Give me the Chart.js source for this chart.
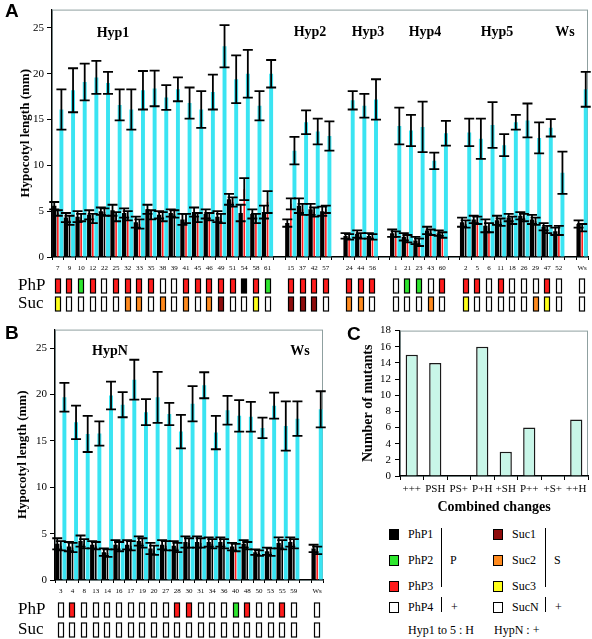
<!DOCTYPE html>
<html lang="en">
<head>
<meta charset="UTF-8">
<title>Hypocotyl length of Hyp mutants</title>
<script src="https://cdn.jsdelivr.net/npm/chart.js"></script>
<style>
  body { margin: 0; background: #fff; width: 592px; height: 639px; position: relative; overflow: hidden;
         font-family: "Liberation Serif", "Times New Roman", serif; color: #000; }
  canvas { position: absolute; }
  .t { position: absolute; white-space: nowrap; line-height: 1; }
  .letter { font-family: "Liberation Sans", Arial, sans-serif; font-weight: bold; font-size: 19px; }
  .sq { position: absolute; width: 10px; height: 11px; box-sizing: border-box; border: 1px solid #000; }
  .vl { position: absolute; width: 0; border-left: 1.5px solid #000; }
</style>
</head>
<body>
<canvas id="chartA" width="592" height="315" style="left:0;top:0"></canvas>
<canvas id="chartB" width="330" height="319" style="left:0;top:320px"></canvas>
<canvas id="chartC" width="262" height="200" style="left:330px;top:320px"></canvas>
<div class="t letter" style="left:5px;top:1px">A</div>
<div class="t letter" style="left:5px;top:323px">B</div>
<div class="t letter" style="left:347px;top:324px">C</div>
<div id="legend"></div>

<script>
  // ---- panel A: Hyp1..Hyp5 mutants and Ws ('' = gap between groups)
  const labelsA = ['7','9','10','12','22','25','32','33','35','38','39','41','45','46','49','51','54','58','61','',
                   '15','37','42','57','',
                   '24','44','56','',
                   '1','21','23','43','60','',
                   '2','5','6','11','18','26','29','47','52','',
                   'Ws'];
  const darkA = [5.6,4.3,4.4,4.6,5.0,5.1,4.8,3.8,5.2,4.6,4.8,4.1,4.9,4.7,4.4,6.3,4.8,4.7,4.9,null,
                 3.7,5.6,5.2,5.0,null,
                 2.3,2.5,2.3,null,
                 2.6,2.2,1.8,2.9,2.6,null,
                 3.8,4.1,3.4,4.0,4.3,4.5,4.1,3.3,2.8,null,
                 3.6];
  const darkErrA = [0.4,0.5,0.6,0.5,0.4,0.6,0.5,0.6,0.5,0.4,0.4,0.6,0.5,0.5,0.6,0.6,0.9,0.5,0.7,null,
                    0.4,0.8,0.6,0.5,null,
                    0.3,0.4,0.3,null,
                    0.4,0.4,0.4,0.4,0.3,null,
                    0.5,0.4,0.7,0.5,0.4,0.4,0.5,0.4,0.4,null,
                    0.4];
  const redA = [4.8,4.0,4.3,4.2,4.9,4.4,4.5,3.6,4.6,4.4,4.7,4.2,4.3,4.4,4.2,6.0,7.4,4.2,6.0,null,
                5.8,5.2,4.9,5.2,null,
                2.2,2.3,2.2,null,
                2.5,2.0,1.6,2.7,2.4,null,
                3.6,4.0,3.2,3.8,4.0,4.3,3.9,3.0,2.9,null,
                3.2];
  const redErrA = [0.3,0.5,0.4,0.5,0.4,0.5,0.5,0.5,0.5,0.5,0.4,0.5,0.5,0.4,0.5,0.5,1.2,0.5,1.2,null,
                   0.6,0.6,0.5,0.4,null,
                   0.3,0.3,0.3,null,
                   0.3,0.4,0.4,0.3,0.3,null,
                   0.4,0.4,0.5,0.4,0.4,0.4,0.4,0.4,0.5,null,
                   0.4];
  const midColorA = ['r','k','r','r','k','r','r','r','r','r','k','r','r','r','r','r','r','r','r',null,
                     'r','r','r','r',null,
                     'r','r','r',null,
                     'r','r','r','r','r',null,
                     'k','r','r','k','k','k','k','k','r',null,
                     'r'];
  const cyanA = [16.1,18.2,19.1,19.6,19.0,16.6,16.1,18.2,18.4,17.4,18.3,16.8,16.1,18.0,23.0,19.4,20.0,16.5,20.0,null,
                 11.6,14.7,13.7,13.2,null,
                 17.1,16.5,17.2,null,
                 14.3,13.8,14.2,10.5,13.5,null,
                 13.6,12.9,14.4,12.2,14.7,14.9,13.0,14.1,9.2,null,
                 18.3];
  const cyanErrA = [2.2,2.4,2.0,1.8,1.2,1.7,2.2,2.1,1.95,1.35,1.3,1.7,2.0,1.9,2.3,2.6,2.6,1.6,1.5,null,
                    1.5,1.3,1.4,1.6,null,
                    1.0,1.3,2.2,null,
                    2.0,1.7,2.75,0.9,1.35,null,
                    1.5,2.2,2.5,1.2,0.8,1.85,1.7,0.95,2.3,null,
                    1.9];
  const phpA = ['3','3','2','3','4','3','3','3','3','4','4','3','3','3','3','3','1','3','2',null,
                '3','3','3','3',null,
                '3','3','3',null,
                '4','2','2','4','3',null,
                '3','3','4','3','4','4','4','3','4',null,
                '4'];
  const sucA = ['3','N','N','N','N','N','2','2','N','2','N','2','N','2','1','N','N','3','N',null,
                '1','1','1','N',null,
                '2','2','N',null,
                'N','N','N','2','N',null,
                '3','N','N','N','N','N','2','3','N',null,
                'N'];

  // ---- panel B: HypN mutants and Ws
  const labelsB = ['3','4','8','13','14','16','17','19','20','27','28','30','31','34','36','40','48','50','53','55','59','','Ws'];
  const darkB = [3.9,3.6,4.2,3.8,3.0,3.8,3.8,4.2,3.4,3.8,3.7,4.1,4.1,4.1,4.1,3.6,3.9,3.0,3.1,4.0,4.1,null,3.4];
  const darkErrB = [0.6,0.5,0.6,0.4,0.4,0.5,0.5,0.5,0.6,0.5,0.5,0.6,0.6,0.5,0.5,0.4,0.4,0.3,0.4,0.6,0.5,null,0.4];
  const redB = [3.7,3.5,3.9,3.7,2.9,3.6,3.7,4.0,3.2,3.7,3.5,4.0,4.0,3.9,3.9,3.5,3.7,2.9,3.0,3.8,3.9,null,3.2];
  const redErrB = [0.5,0.5,0.5,0.4,0.4,0.5,0.5,0.5,0.5,0.5,0.5,0.5,0.5,0.5,0.5,0.4,0.4,0.3,0.4,0.5,0.5,null,0.4];
  const midColorB = ['k','k','k','k','k','k','k','k','k','k','k','k','k','k','k','r','k','k','k','k','k',null,'r'];
  const cyanB = [19.7,17.0,15.75,15.8,19.9,18.9,21.6,18.1,19.7,17.9,16.0,19.0,21.0,15.9,18.3,17.7,17.6,16.4,18.8,16.6,17.4,null,18.4];
  const cyanErrB = [1.55,1.8,1.95,1.3,1.5,1.35,2.15,1.4,2.75,1.2,1.8,1.9,1.4,1.8,1.55,1.7,1.6,1.1,1.4,2.65,1.85,null,1.95];
  const phpB = ['4','3','4','4','4','4','4','4','4','4','3','3','4','4','4','2','3','4','4','3','4',null,'4'];
  const sucB = ['N','N','N','N','N','N','N','N','N','N','N','N','N','N','N','N','N','N','N','N','N',null,'N'];

  // ---- panel C: combined changes
  const labelsC = ['+++','PSH','PS+','P+H','+SH','P++','+S+','++H'];
  const countsC = [15,14,0,16,3,6,0,7];

  const phpColors = { '1': '#000000', '2': '#2ee62e', '3': '#ff1c1c', '4': '#ffffff' };
  const sucColors = { '1': '#8e0c0c', '2': '#ff8a1e', '3': '#ffff1a', 'N': '#ffffff' };
  const midColors = { r: '#ff1c1c', k: '#000000' };

  const SERIF = '"Liberation Serif", "Times New Roman", serif';
  const CYAN = '#3ae4f2';

  // error bars drawn from each dataset's "errors" array
  const errorBars = {
    id: 'errorBars',
    afterDatasetsDraw(chart, args, opts) {
      const ctx = chart.ctx, y = chart.scales.y, half = opts.cap / 2;
      ctx.save();
      ctx.strokeStyle = '#000';
      ctx.lineWidth = opts.width;
      chart.data.datasets.forEach((ds, di) => {
        if (!ds.errors) return;
        chart.getDatasetMeta(di).data.forEach((bar, i) => {
          const v = ds.data[i], e = ds.errors[i];
          if (v == null || e == null) return;
          const top = y.getPixelForValue(v + e), bot = y.getPixelForValue(v - e);
          ctx.beginPath();
          ctx.moveTo(bar.x, top); ctx.lineTo(bar.x, bot);
          ctx.moveTo(bar.x - half, top); ctx.lineTo(bar.x + half, top);
          ctx.moveTo(bar.x - half, bot); ctx.lineTo(bar.x + half, bot);
          ctx.stroke();
        });
      });
      ctx.restore();
    }
  };

  // grey box round the plot area (axes drawn black on top of it)
  const frame = {
    id: 'frame',
    beforeDraw(chart) {
      const { ctx, chartArea: a } = chart;
      ctx.save();
      ctx.strokeStyle = '#8fa0a0';
      ctx.lineWidth = 1;
      ctx.strokeRect(a.left + 0.5, a.top + 0.5, a.right - a.left - 1, a.bottom - a.top);
      ctx.restore();
    }
  };

  // PhP / Suc class boxes under each mutant, placed with the x scale
  const indicators = {
    id: 'indicators',
    afterDraw(chart, args, o) {
      if (!o.php) return;
      const ctx = chart.ctx, x = chart.scales.x;
      ctx.save();
      ctx.fillStyle = '#000';
      ctx.font = '17px ' + SERIF;
      ctx.textBaseline = 'middle';
      ctx.fillText('PhP', o.labelX, o.phpY + o.h / 2);
      ctx.fillText('Suc', o.labelX, o.sucY + o.h / 2);
      [[o.php, phpColors, o.phpY], [o.suc, sucColors, o.sucY]].forEach(([codes, map, top]) => {
        codes.forEach((c, i) => {
          if (c == null) return;
          const cx = Math.round(x.getPixelForValue(i));
          ctx.fillStyle = map[c];
          ctx.fillRect(cx - o.w / 2, top, o.w, o.h);
          ctx.strokeStyle = '#000';
          ctx.lineWidth = 1.2;
          ctx.strokeRect(cx - o.w / 2, top, o.w, o.h);
        });
      });
      ctx.restore();
    }
  };

  const groupLabels = {
    id: 'groupLabels',
    afterDraw(chart, args, o) {
      if (!o.items) return;
      const ctx = chart.ctx;
      ctx.save();
      ctx.fillStyle = '#000';
      ctx.font = 'bold 14px ' + SERIF;
      ctx.textAlign = 'center';
      ctx.textBaseline = 'middle';
      o.items.forEach(([txt, px, py]) => ctx.fillText(txt, px, py));
      ctx.restore();
    }
  };

  function hypChart(id, labels, dark, darkErr, red, redErr, midColor, cyan, cyanErr, php, suc, cfg) {
    return new Chart(document.getElementById(id), {
      type: 'bar',
      data: {
        labels: labels,
        datasets: [
          { data: dark, errors: darkErr, backgroundColor: '#000', barPercentage: 1.2, categoryPercentage: 0.92 },
          { data: red, errors: redErr, backgroundColor: midColor.map(c => c ? midColors[c] : '#000'),
            barPercentage: 0.45, categoryPercentage: 0.92 },
          { data: cyan, errors: cyanErr, backgroundColor: CYAN, barPercentage: 1.1, categoryPercentage: 0.92 }
        ]
      },
      options: {
        responsive: false,
        animation: false,
        layout: { padding: { top: cfg.top, right: cfg.right, left: 0, bottom: 0 } },
        plugins: {
          legend: { display: false },
          tooltip: { enabled: false },
          errorBars: { cap: 10, width: 1.8 },
          indicators: { php: php, suc: suc, phpY: cfg.phpY, sucY: cfg.sucY, h: 14, w: 5, labelX: 18 },
          groupLabels: { items: cfg.groups }
        },
        scales: {
          x: {
            grid: { drawOnChartArea: false, tickLength: 3, color: '#000' },
            border: { color: '#000', width: 1.2 },
            ticks: { font: { family: SERIF, size: 7 }, color: '#000', autoSkip: false, maxRotation: 0, padding: 4 },
            afterFit(s) { s.height = cfg.xHeight; }
          },
          y: {
            min: 0, max: 27,
            afterBuildTicks(s) { s.ticks = s.ticks.filter(t => t.value % 5 === 0); },
            grid: { drawOnChartArea: false, tickLength: 5, color: '#000' },
            border: { color: '#000', width: 1.2 },
            ticks: { stepSize: 5, font: { family: SERIF, size: 11 }, color: '#000', padding: 3 },
            title: { display: true, text: 'Hypocotyl length (mm)', color: '#000',
                     font: { family: SERIF, size: 13, weight: 'bold' }, padding: { top: cfg.titlePad, bottom: 0 } },
            afterFit(s) { s.width = cfg.yWidth; }
          }
        }
      },
      plugins: [frame, errorBars, indicators, groupLabels]
    });
  }

  hypChart('chartA', labelsA, darkA, darkErrA, redA, redErrA, midColorA, cyanA, cyanErrA, phpA, sucA, {
    top: 7, right: 4, xHeight: 58, yWidth: 52, titlePad: 18, phpY: 279, sucY: 297,
    groups: [['Hyp1', 113, 33], ['Hyp2', 310, 32], ['Hyp3', 368, 32], ['Hyp4', 425, 32], ['Hyp5', 497, 32], ['Ws', 565, 32]]
  });

  hypChart('chartB', labelsB, darkB, darkErrB, redB, redErrB, midColorB, cyanB, cyanErrB, phpB, sucB, {
    top: 9, right: 7, xHeight: 59, yWidth: 55, titlePad: 15, phpY: 283, sucY: 303,
    groups: [['HypN', 110, 31], ['Ws', 300, 31]]
  });

  new Chart(document.getElementById('chartC'), {
    type: 'bar',
    data: {
      labels: labelsC,
      datasets: [{ data: countsC, backgroundColor: '#c8f6e8', borderColor: '#1a1a1a', borderWidth: 1.5,
                   barPercentage: 0.52, categoryPercentage: 1 }]
    },
    options: {
      responsive: false,
      animation: false,
      layout: { padding: { top: 10, right: 4, left: 0, bottom: 0 } },
      plugins: { legend: { display: false }, tooltip: { enabled: false } },
      scales: {
        x: {
          grid: { drawOnChartArea: false, tickLength: 4, color: '#000' },
          border: { color: '#000', width: 1.2 },
          ticks: { font: { family: SERIF, size: 11 }, color: '#000', autoSkip: false, maxRotation: 0, padding: 3 },
          title: { display: true, text: 'Combined changes', color: '#000',
                   font: { family: SERIF, size: 14, weight: 'bold' }, padding: { top: 0, bottom: 4 } },
          afterFit(s) { s.height = 44; }
        },
        y: {
          min: 0, max: 18,
          grid: { drawOnChartArea: false, tickLength: 5, color: '#000' },
          border: { color: '#000', width: 1.2 },
          ticks: { stepSize: 2, autoSkip: false, font: { family: SERIF, size: 11 }, color: '#000', padding: 4 },
          title: { display: true, text: 'Number of mutants', color: '#000',
                   font: { family: SERIF, size: 14, weight: 'bold' }, padding: { top: 30, bottom: 0 } },
          afterFit(s) { s.width = 70; }
        }
      }
    },
    plugins: [frame]
  });

  // ---- legend for the PhP / Suc classes
  const phpLegend = [['PhP1', '1'], ['PhP2', '2'], ['PhP3', '3'], ['PhP4', '4']];
  const sucLegend = [['Suc1', '1'], ['Suc2', '2'], ['Suc3', '3'], ['SucN', 'N']];
  const rowY = [534, 560, 586, 607];
  let html = '';
  phpLegend.forEach(([name, code], i) => {
    html += `<div class="sq" style="left:389px;top:${rowY[i] - 5}px;background:${phpColors[code]}"></div>`;
    html += `<div class="t" style="left:408px;top:${rowY[i] - 6}px;font-size:12px">${name}</div>`;
  });
  sucLegend.forEach(([name, code], i) => {
    html += `<div class="sq" style="left:493px;top:${rowY[i] - 5}px;background:${sucColors[code]}"></div>`;
    html += `<div class="t" style="left:512px;top:${rowY[i] - 6}px;font-size:12px">${name}</div>`;
  });
  html += '<div class="vl" style="left:441px;top:528px;height:59px"></div>';
  html += '<div class="vl" style="left:441px;top:597px;height:15px"></div>';
  html += '<div class="vl" style="left:545px;top:528px;height:59px"></div>';
  html += '<div class="vl" style="left:545px;top:597px;height:15px"></div>';
  html += '<div class="t" style="left:450px;top:554px;font-size:12px">P</div>';
  html += '<div class="t" style="left:451px;top:601px;font-size:12px">+</div>';
  html += '<div class="t" style="left:554px;top:554px;font-size:12px">S</div>';
  html += '<div class="t" style="left:555px;top:601px;font-size:12px">+</div>';
  html += '<div class="t" style="left:408px;top:624px;font-size:12px">Hyp1 to 5 : H</div>';
  html += '<div class="t" style="left:494px;top:624px;font-size:12px">HypN : +</div>';
  document.getElementById('legend').innerHTML = html;
</script>
</body>
</html>
